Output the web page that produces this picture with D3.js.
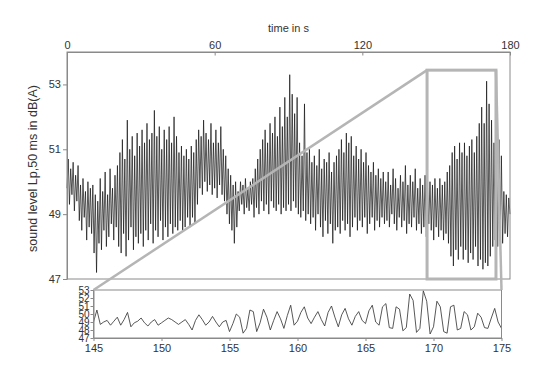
<!DOCTYPE html>
<html>
<head>
<meta charset="utf-8">
<script src="https://cdn.jsdelivr.net/npm/d3@7/dist/d3.min.js"></script>
<style>
    body { margin: 0; background: #fff; }
    text { font-family: "Liberation Sans", Arial, sans-serif; }
</style>
</head>
<body>
<div id="div1"></div>
<script>
// Sound level over the whole 180 s, one value every 0.5 s.
var mainStart = 0;
var mainStep = 0.5;
var mainLevel = [
    49.8, 50.7, 49.3, 50.4, 49.6, 50.6, 49.1, 50.2, 49.4, 50.5, 48.8, 49.9, 48.5, 50.1, 48.9, 49.7, 48.2, 50.0, 48.6, 49.8,
    48.4, 49.9, 47.8, 49.6, 47.2, 49.4, 48.1, 50.1, 47.9, 49.7, 48.5, 50.3, 48.0, 49.6, 48.3, 50.4, 48.7, 49.8, 48.2, 50.2,
    48.6, 50.5, 48.0, 50.9, 47.8, 51.3, 48.4, 50.7, 47.7, 51.9, 48.2, 51.0, 48.6, 51.4, 47.9, 50.8, 48.3, 51.5, 48.1, 51.1,
    48.4, 51.6, 48.0, 51.2, 48.5, 51.8, 48.2, 51.3, 48.7, 51.5, 48.1, 52.2, 48.5, 51.4, 48.3, 51.7, 48.8, 51.0, 48.2, 51.6,
    48.6, 51.3, 48.3, 51.7, 48.7, 51.2, 48.4, 52.0, 48.6, 51.4, 48.5, 50.9, 48.8, 51.1, 48.5, 50.8, 48.6, 51.0, 48.9, 50.7,
    48.6, 51.1, 48.9, 50.9, 48.7, 51.3, 49.3, 51.6, 49.8, 51.4, 49.6, 51.9, 50.0, 51.5, 49.7, 51.3, 49.9, 51.8, 49.6, 51.2,
    49.8, 51.6, 49.5, 51.2, 49.9, 51.7, 49.6, 51.0, 49.4, 50.8, 49.0, 50.4, 48.7, 50.2, 48.5, 49.9, 48.1, 50.0, 48.6, 49.7,
    49.1, 50.0, 49.3, 49.9, 49.0, 50.1, 49.2, 49.8, 49.1, 50.0, 49.3, 50.1, 48.9, 50.4, 49.2, 50.7, 49.0, 51.0, 49.4, 51.3,
    49.1, 51.6, 49.3, 51.2, 49.0, 51.8, 49.4, 51.5, 49.2, 52.0, 49.1, 51.4, 49.3, 52.3, 49.0, 51.7, 49.2, 52.6, 49.1, 52.0,
    49.3, 53.3, 49.1, 52.7, 49.4, 52.1, 49.2, 52.6, 49.0, 51.2, 48.9, 50.8, 49.1, 52.4, 48.8, 50.9, 49.0, 51.0, 48.7, 50.6,
    48.9, 50.8, 48.5, 50.5, 49.0, 51.0, 48.6, 50.4, 48.3, 50.7, 48.8, 50.6, 48.4, 50.9, 48.7, 50.3, 48.1, 50.6, 48.5, 50.8,
    48.6, 51.0, 48.4, 51.3, 48.8, 50.9, 48.5, 51.5, 48.7, 51.2, 48.3, 51.4, 48.6, 50.8, 48.9, 51.1, 48.5, 50.7, 48.8, 51.0,
    48.6, 50.6, 48.9, 50.9, 48.4, 50.5, 48.7, 50.3, 48.9, 50.6, 48.5, 50.2, 48.8, 50.4, 48.6, 50.1, 48.9, 50.3, 48.7, 50.0,
    48.8, 50.3, 48.6, 49.9, 49.0, 50.4, 48.7, 50.1, 48.5, 49.8, 48.9, 50.2, 48.6, 50.0, 48.8, 50.5, 48.4, 49.9, 48.7, 50.2,
    48.6, 50.0, 48.9, 50.4, 48.5, 49.8, 48.7, 50.1, 48.4, 49.9, 48.6, 50.2, 48.3, 49.8, 48.7, 50.0, 48.5, 49.9, 48.2, 50.1,
    48.6, 49.8, 48.3, 50.1, 48.5, 49.9, 48.2, 50.0, 48.4, 50.3, 48.1, 50.5, 47.7, 50.9, 47.4, 51.1, 47.9, 50.7, 47.6, 51.2,
    48.0, 50.9, 47.6, 51.2, 47.9, 50.8, 47.5, 51.1, 47.8, 51.3, 47.6, 50.9, 48.0, 51.4, 47.4, 51.8, 47.6, 52.3, 47.3, 51.8,
    47.5, 53.1, 47.4, 52.4, 47.7, 51.9, 48.0, 51.2, 48.2, 50.9, 48.0, 51.3, 48.3, 50.8, 48.1, 49.7, 48.4, 49.6, 48.3, 49.5, 49.0
];

// Zoomed section 145 - 175 s, one value every 0.25 s.
var zoomStart = 145;
var zoomStep = 0.25;
var zoomLevel = [
    49.0, 50.5, 48.7, 49.0,  49.2, 48.6, 49.1, 49.6,  48.6, 49.3, 50.2, 48.4,  48.9, 49.1, 49.5, 48.9,  48.5, 49.0, 49.3, 48.6,
    48.9, 49.2, 49.5, 49.3,  49.0, 48.7, 49.0, 49.3,  48.7, 48.0, 49.2, 49.9,  49.3, 48.6, 49.0, 49.7,  49.0, 48.4, 49.0, 49.2,
    47.8, 48.8, 50.0, 49.6,  47.6, 48.2, 50.5, 50.3,  47.8, 48.9, 50.6, 49.6,  48.0, 49.2, 50.3, 49.4,  48.2, 49.8, 51.1, 48.6,
    49.1, 50.2, 50.9, 49.5,  48.8, 49.6, 50.3, 49.3,  48.5, 50.2, 51.0, 49.6,  48.4, 49.9, 50.7, 49.4,  48.6, 49.7, 50.3, 49.2,
    48.8, 50.4, 51.1, 49.0,  48.6, 50.9, 51.3, 48.3,  48.2, 50.9, 50.6, 47.9,  48.3, 52.5, 51.7, 47.7,  48.2, 52.9, 51.6, 47.5,
    48.4, 51.6, 50.9, 47.8,  47.6, 50.9, 51.1, 48.0,  48.2, 50.3, 49.9, 48.0,  48.4, 50.1, 49.6, 48.3,  48.2, 49.5, 50.7, 49.0,
    48.2
];

// Tick labels.
var timeTicks = [0, 60, 120, 180];
var levelTicks = [47, 49, 51, 53];
var zoomTimeTicks = [145, 150, 155, 160, 165, 170, 175];
var zoomLevelTicks = [47, 48, 49, 50, 51, 52, 53];

// Marked region in the main plot (time from, time to, level top).
var boxTime = [146.3, 174.3];
var boxLevel = [47, 53.44];

window.onload = function () {

    var svg = d3.select("#div1").append("svg").attr("width", 540).attr("height", 367);

    var frameColor = "#8a8a8a";
    var textColor = "#333";
    var markColor = "#b5b5b5";
    var fmt = d3.format("d");

    //Scales for the main plot and the zoomed plot.
    var x = d3.scaleLinear().domain([0, 180]).range([67, 510]);
    var y = d3.scaleLinear().domain([47, 54]).range([279, 52]);
    var xz = d3.scaleLinear().domain([145, 175]).range([93.5, 501.5]);
    var yz = d3.scaleLinear().domain([47, 53]).range([338, 290]);


    //Main trace.
    var mainLine = d3.line()
        .x(function (d, i) { return x(mainStart + i * mainStep); })
        .y(function (d) { return y(d); });

    svg.append("path").datum(mainLevel)
        .attr("d", mainLine)
        .attr("fill", "none")
        .attr("stroke", "#111")
        .attr("stroke-width", 0.7);


    //Frame of the main plot.
    svg.append("rect")
        .attr("x", x(0)).attr("y", y(54))
        .attr("width", x(180) - x(0)).attr("height", y(47) - y(54))
        .attr("fill", "none").attr("stroke", frameColor);

    //Top time axis (ticks point inward).
    var topAxis = svg.append("g")
        .attr("transform", "translate(0," + y(54) + ")")
        .call(d3.axisTop(x).tickValues(timeTicks).tickFormat(fmt)
            .tickSize(-3.5).tickSizeOuter(0).tickPadding(3));

    //Left level axis.
    var leftAxis = svg.append("g")
        .attr("transform", "translate(" + x(0) + ",0)")
        .call(d3.axisLeft(y).tickValues(levelTicks).tickFormat(fmt)
            .tickSize(4).tickSizeOuter(0).tickPadding(2));

    [topAxis, leftAxis].forEach(function (g) {
        g.attr("color", frameColor).attr("font-family", null).attr("font-size", null);
        g.selectAll("text").attr("fill", textColor).style("font-size", "11px");
    });

    svg.append("text")
        .attr("x", (x(0) + x(180)) / 2).attr("y", 32)
        .attr("text-anchor", "middle")
        .attr("fill", textColor).style("font-size", "11px")
        .text("time in s");

    svg.append("text")
        .attr("transform", "translate(37," + ((y(47) + y(54)) / 2 + 3) + ") rotate(-90)")
        .attr("text-anchor", "middle")
        .attr("fill", textColor).style("font-size", "12.5px")
        .text("sound level Lp,50 ms in dB(A)");


    //Zoomed trace.
    var zoomLine = d3.line()
        .x(function (d, i) { return xz(zoomStart + i * zoomStep); })
        .y(function (d) { return yz(d); });

    svg.append("path").datum(zoomLevel)
        .attr("d", zoomLine)
        .attr("fill", "none")
        .attr("stroke", "#3a3a3a")
        .attr("stroke-width", 0.85);

    svg.append("rect")
        .attr("x", xz(145)).attr("y", yz(53))
        .attr("width", xz(175) - xz(145)).attr("height", yz(47) - yz(53))
        .attr("fill", "none").attr("stroke", frameColor);

    var zoomBottom = svg.append("g")
        .attr("transform", "translate(0," + yz(47) + ")")
        .call(d3.axisBottom(xz).tickValues(zoomTimeTicks).tickFormat(fmt)
            .tickSize(3).tickSizeOuter(0).tickPadding(3));

    var zoomLeft = svg.append("g")
        .attr("transform", "translate(" + xz(145) + ",0)")
        .call(d3.axisLeft(yz).tickValues(zoomLevelTicks).tickFormat(fmt)
            .tickSize(3).tickSizeOuter(0).tickPadding(1));

    zoomBottom.attr("color", frameColor).attr("font-family", null).attr("font-size", null);
    zoomBottom.selectAll("text").attr("fill", textColor).style("font-size", "11px");
    zoomLeft.attr("color", frameColor).attr("font-family", null).attr("font-size", null);
    zoomLeft.selectAll("text").attr("fill", textColor).style("font-size", "10px");


    //Marked region and the lines that link it to the zoomed plot.
    svg.append("rect")
        .attr("x", x(boxTime[0])).attr("y", y(boxLevel[1]))
        .attr("width", x(boxTime[1]) - x(boxTime[0])).attr("height", y(boxLevel[0]) - y(boxLevel[1]))
        .attr("fill", "none").attr("stroke", markColor).attr("stroke-width", 3);

    svg.append("line")
        .attr("x1", xz(145)).attr("y1", yz(53))
        .attr("x2", x(boxTime[0])).attr("y2", y(boxLevel[1]))
        .attr("stroke", markColor).attr("stroke-width", 2.5);

    svg.append("line")
        .attr("x1", x(boxTime[1])).attr("y1", y(boxLevel[1]))
        .attr("x2", xz(175)).attr("y2", yz(53))
        .attr("stroke", markColor).attr("stroke-width", 2.5);
};
</script>
</body>
</html>
